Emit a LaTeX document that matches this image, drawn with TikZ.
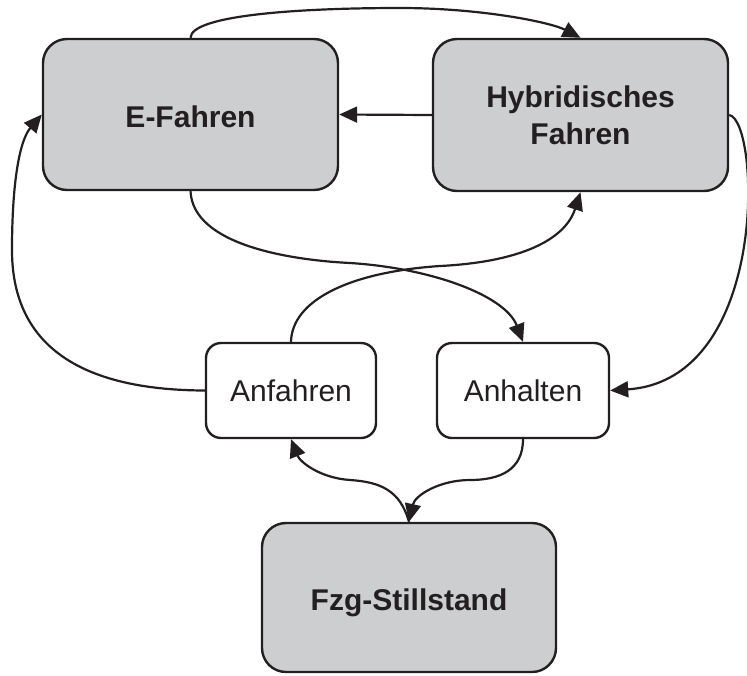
\documentclass[tikz,border=0pt]{standalone}
\usepackage{fontspec}
\setmainfont{Liberation Sans}
\usetikzlibrary{arrows.meta}
\definecolor{boxgray}{RGB}{205,206,208}
\definecolor{ink}{RGB}{35,31,32}
\begin{document}
\begin{tikzpicture}[x=1pt,y=-1pt,
  bigstate/.style={draw=ink, line width=2.4pt, fill=boxgray, rounded corners=24pt,
    inner sep=0pt, align=center, text=ink,
    font=\fontsize{30}{37}\selectfont\bfseries},
  smallstate/.style={draw=ink, line width=2.4pt, fill=white, rounded corners=15pt,
    inner sep=0pt, align=center, text=ink,
    minimum width=170pt, minimum height=95pt,
    font=\fontsize{30}{37}\selectfont},
  flow/.style={draw=ink, line width=2.2pt, -{Triangle[length=18pt,width=16pt]}}]
  \useasboundingbox (0,0) rectangle (747,675);

  % states
  \node[bigstate, minimum width=295pt, minimum height=151pt] (ef) at (190.5,114.5)
    {\raisebox{-2pt}[\height][\depth]{E-Fahren}};
  \node[bigstate, minimum width=295pt, minimum height=152pt] (hf) at (580.5,115)
    {Hybridisches\\Fahren};
  \node[smallstate] (af) at (291,390.5) {Anfahren};
  \node[smallstate, minimum width=172pt] (ah) at (523,390.5) {Anhalten};
  \node[bigstate, minimum width=294pt, minimum height=149pt] (fs) at (409,597.5)
    {\raisebox{-5pt}[\height][\depth]{Fzg-Stillstand}};

  % transitions between the driving modes
  \draw[flow] (ef.north) .. controls (191,15) and (300,8) .. (400,8)
                         .. controls (480,8) and (550,22) .. (hf.north);
  \draw[flow] (hf.west) -- (ef.east);
  \draw[flow] (ef.south) .. controls (193,245) and (290,260) .. (350,263)
                         .. controls (430,268) and (505,295) .. (ah.north);
  \draw[flow] (af.north) .. controls (292,300) and (350,272) .. (440,266)
                         .. controls (520,262) and (565,240) .. (hf.south);
  \draw[flow] (hf.east) .. controls (760,120) and (770,380) .. (ah.east);
  \draw[flow] (af.west) .. controls (60,390) and (12,330) .. (12,250)
                        .. controls (12,180) and (20,140) .. (ef.west);

  % start and stop
  \draw[flow] (fs.north) .. controls (400,490) and (380,482) .. (350,480)
                         .. controls (320,478) and (300,462) .. (af.south);
  \draw[flow] (ah.south) .. controls (523,470) and (500,480) .. (470,480)
                         .. controls (440,480) and (415,495) .. (fs.north);
\end{tikzpicture}
\end{document}
